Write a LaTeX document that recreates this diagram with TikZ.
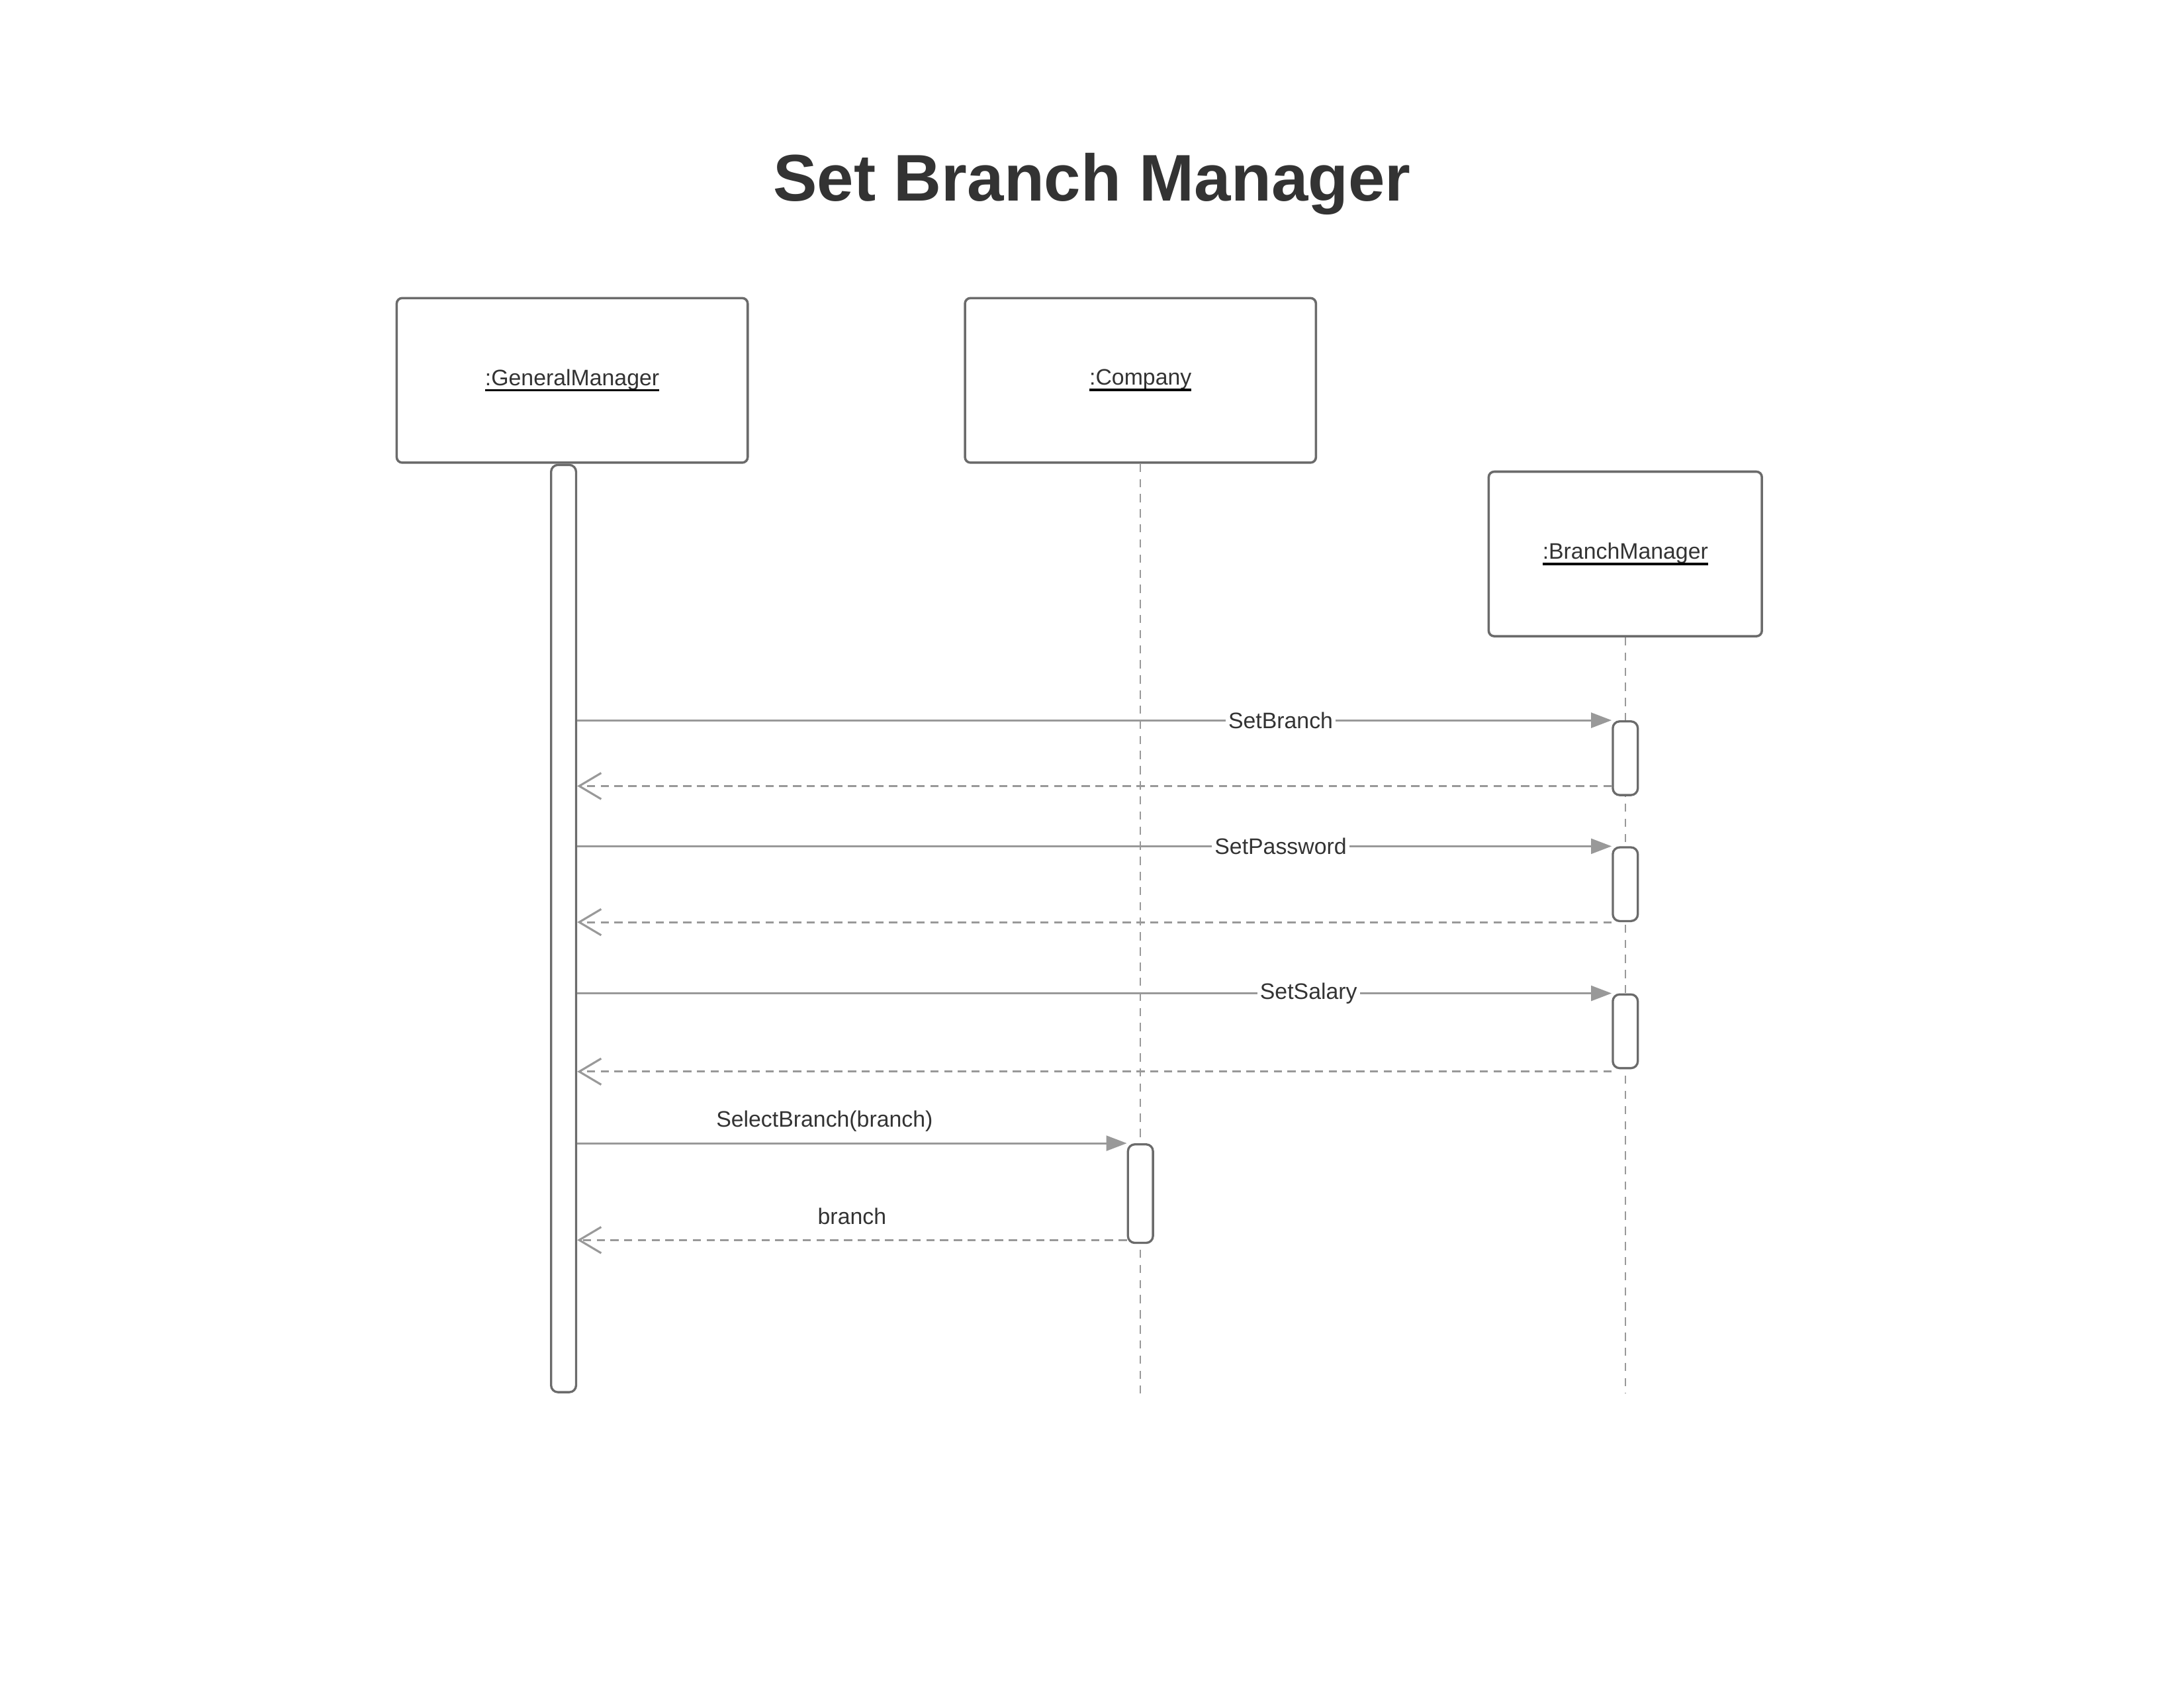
\documentclass[tikz,border=0pt]{standalone}
\usepackage{fontspec}
\setmainfont{Liberation Sans}
\usepackage{xcolor}
\usetikzlibrary{arrows.meta, positioning}
\definecolor{boxgray}{HTML}{6B6B6B}
\definecolor{linegray}{HTML}{999999}
\definecolor{textgray}{HTML}{333333}
\newcommand{\objlabel}[1]{\setbox0=\hbox{#1}\leavevmode\vtop{\box0\kern-0.4pt{\color{black}\hrule height 0.9pt}}}
\tikzset{ % global config
    every node/.style={font=\fontsize{8.15}{10}\selectfont, text=textgray}, % text of all labels
    objbox/.style={draw=boxgray, line width=0.85pt, rounded corners=2pt, fill=white, minimum width=4.49cm, minimum height=2.105cm}, % heads of the lifelines
    actbar/.style={draw=boxgray, line width=0.8pt, rounded corners=2.5pt, fill=white, minimum width=0.32cm, inner sep=0pt}, % activation bars
    lifeline/.style={draw=linegray, line width=0.6pt, dash pattern=on 3pt off 2.5pt},
    call/.style={draw=linegray, line width=0.75pt, -{Triangle[length=7.5pt,width=5.5pt]}}, % synchronous message
    reply/.style={draw=linegray, line width=0.75pt, dash pattern=on 3pt off 2pt, -{Straight Barb[length=8pt,width=9.5pt,line width=0.75pt]}}, % return message
    msg/.style={fill=white, inner sep=1pt},
}
\begin{document}
\begin{tikzpicture}

		\useasboundingbox (0,0) rectangle (27.94,-21.59);

		\node[font=\fontsize{24}{28}\selectfont\bfseries] (title) at (13.97,-2.35) {Set Branch Manager};

		\node[objbox] (gm) at (7.32,-4.865) {\objlabel{:GeneralManager}};
		\node[objbox, right=2.75cm of gm] (co) {\objlabel{:Company}};
		\node[objbox, minimum width=3.495cm, below right=2.22cm and 2.18cm of co.north east] (bm) {\objlabel{:BranchManager}};

		\node[actbar, minimum height=11.86cm, anchor=north] (gmbar) at ([xshift=-1.1mm]gm.south) {};

		\draw[lifeline] (co.south) -- (co.south |- gmbar.south);
		\draw[lifeline] (bm.south) -- (bm.south |- gmbar.south);

		\node[actbar, minimum height=0.943cm, below=1.06cm of bm.south, anchor=north] (bm1) {};
		\node[actbar, minimum height=0.943cm, below=0.64cm of bm1] (bm2) {};
		\node[actbar, minimum height=0.943cm, below=0.91cm of bm2] (bm3) {};
		\node[actbar, minimum height=1.26cm, below=8.69cm of co.south, anchor=north] (co1) {};

		\draw[call] (gmbar.east |- bm1.north) -- node[msg, pos=0.68] {SetBranch} (bm1.north west);
		\draw[reply] ([yshift=1.3mm]bm1.south west) coordinate (r1) -- (gmbar.east |- r1);
		\draw[call] (gmbar.east |- bm2.north) -- node[msg, pos=0.68] {SetPassword} (bm2.north west);
		\draw[reply] (bm2.south west) -- (gmbar.east |- bm2.south);
		\draw[call] (gmbar.east |- bm3.north) -- node[msg, pos=0.707] {SetSalary} (bm3.north west);
		\draw[reply] ([yshift=-0.3mm]bm3.south west) coordinate (r3) -- (gmbar.east |- r3);
		\draw[call] (gmbar.east |- co1.north) -- node[above=0.5pt, pos=0.45] {SelectBranch(branch)} (co1.north west);
		\draw[reply] ([yshift=0.5mm]co1.south west) coordinate (r4) -- node[above=2pt] {branch} (gmbar.east |- r4);

	\end{tikzpicture}
\end{document}
